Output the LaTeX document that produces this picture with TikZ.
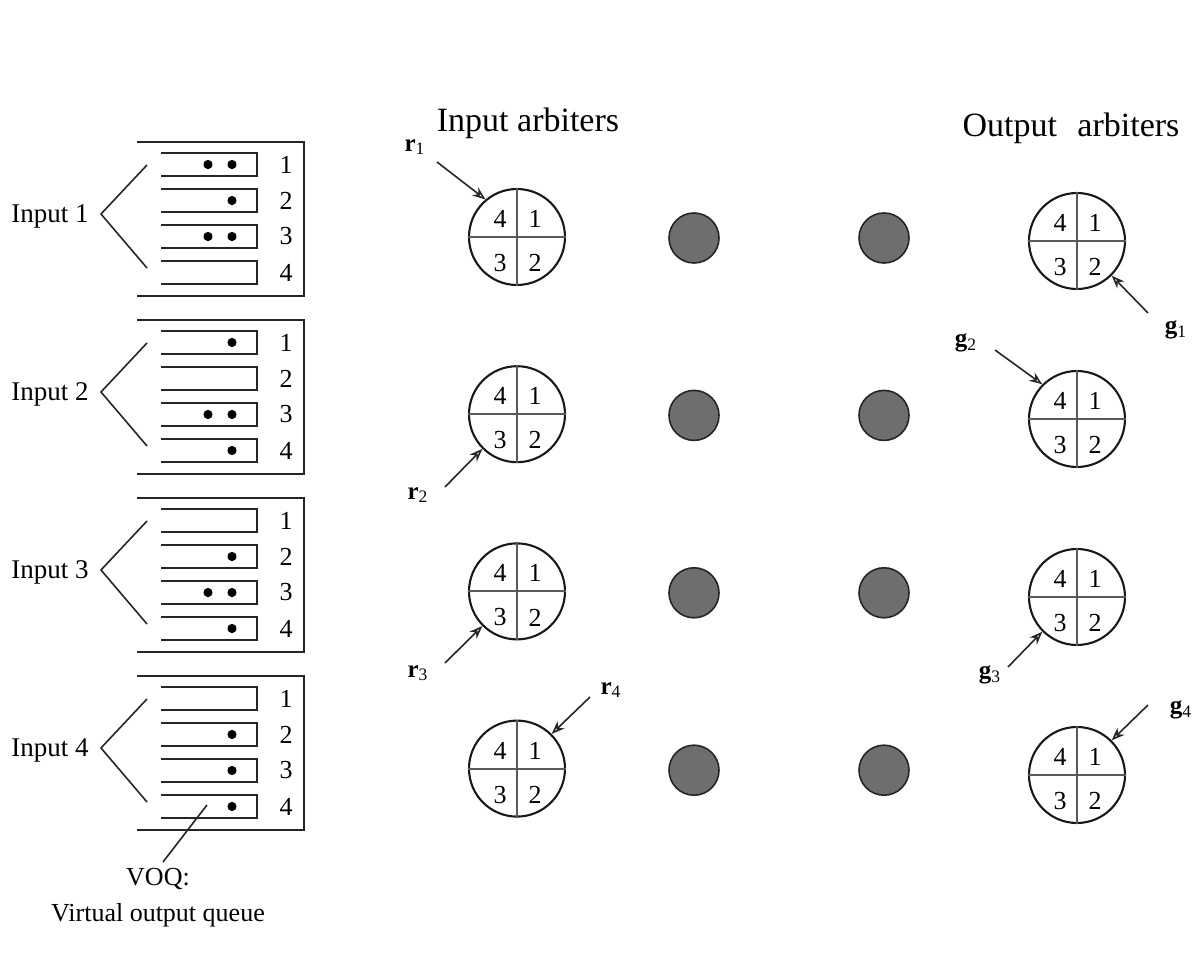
\documentclass[tikz,border=0pt]{standalone}
\usepackage{fontspec}
\setmainfont{Liberation Serif}
\usetikzlibrary{arrows.meta}
\begin{document}
\begin{tikzpicture}[x=0.5pt,y=-0.5pt,
  qline/.style={line width=1.05pt, draw=black!85},
  arb/.style={circle, draw=black!90, line width=1.05pt, minimum size=48pt, inner sep=0pt},
  crossline/.style={line width=1pt, draw=black!65},
  digit/.style={font=\fontsize{13}{15}\selectfont, inner sep=0pt},
  qnum/.style={font=\fontsize{13}{15}\selectfont, inner sep=0pt},
  swnode/.style={circle, draw=black!85, line width=0.8pt, fill=black!57, minimum size=25pt, inner sep=0pt},
  pkt/.style={circle, fill=black, minimum size=4.6pt, inner sep=0pt},
  arr/.style={line width=0.8pt, draw=black!85, -{Stealth[open,length=6.5pt,width=5pt]}},
  siglbl/.style={font=\fontsize{12.5}{14}\selectfont\bfseries, inner sep=0pt},
  inlabel/.style={font=\fontsize{13.5}{16}\selectfont, inner sep=0pt},
  titlefont/.style={font=\fontsize{17}{20}\selectfont, inner sep=0pt},
  voqfont/.style={font=\fontsize{13}{15}\selectfont, inner sep=0pt},
]
\useasboundingbox[fill=white] (0,0) rectangle (1196,957);

% ---------- input VOQ blocks ----------
\foreach \k/\lab in {0/1,1/2,2/3,3/4}{
  \pgfmathsetmacro{\b}{153+178*\k}
  \draw[qline] (137,\b-11) -- (304,\b-11) -- (304,\b+143) -- (137,\b+143);
  \foreach \j in {0,1,2,3}{
    \draw[qline] (161,\b+36*\j) -- (257,\b+36*\j) -- (257,\b+36*\j+23) -- (161,\b+36*\j+23);
    \pgfmathtruncatemacro{\jj}{\j+1}
    \node[qnum] (n\k\j) at (286,\b+36*\j+11.5) {\jj};
  }
  \node[inlabel, anchor=east] (in\k) at (89,\b+63) {Input \lab};
  \coordinate (v\k) at (101,\b+61);
  \coordinate (ft\k) at (147,\b+12);
  \coordinate (fb\k) at (147,\b+115);
  \draw[qline, line width=0.8pt] (ft\k) -- (v\k) -- (fb\k);
}

% packets (dots)
\def\dotA{208}
\def\dotB{232}
% block 1
\node[pkt] (p1a) at (\dotA,164.5) {};
\node[pkt] (p1b) at (\dotB,164.5) {};
\node[pkt] (p1c) at (\dotB,200.5) {};
\node[pkt] (p1d) at (\dotA,236.5) {};
\node[pkt] (p1e) at (\dotB,236.5) {};
% block 2
\node[pkt] (p2a) at (\dotB,342.5) {};
\node[pkt] (p2b) at (\dotA,414.5) {};
\node[pkt] (p2c) at (\dotB,414.5) {};
\node[pkt] (p2d) at (\dotB,450.5) {};
% block 3
\node[pkt] (p3a) at (\dotB,556.5) {};
\node[pkt] (p3b) at (\dotA,592.5) {};
\node[pkt] (p3c) at (\dotB,592.5) {};
\node[pkt] (p3d) at (\dotB,628.5) {};
% block 4
\node[pkt] (p4a) at (\dotB,734.5) {};
\node[pkt] (p4b) at (\dotB,770.5) {};
\node[pkt] (p4c) at (\dotB,806.5) {};

% VOQ label
\coordinate (voqpt) at (207,805);
\node[voqfont] (voq) at (158,879) {VOQ:};
\node[voqfont] (voqtxt) at (158,915) {Virtual output queue};
\draw[qline, line width=0.8pt] (voqpt) -- (163,862);

% ---------- titles ----------
\node[titlefont] (tin) at (528,123) {Input arbiters};
\node[titlefont] (tout) at (1071,128) {Output\hspace{0.6em}arbiters};

% ---------- arbiters and switches ----------
\foreach \k in {0,1,2,3}{
  \pgfmathsetmacro{\yi}{237+177.2*\k}
  \pgfmathsetmacro{\yo}{241+178*\k}
  \pgfmathsetmacro{\ys}{238+177.4*\k}
  \node[arb] (ia\k) at (517,\yi) {};
  \node[arb] (oa\k) at (1077,\yo) {};
  \node[swnode] (sa\k) at (694,\ys) {};
  \node[swnode] (sb\k) at (884,\ys) {};
  \foreach \a in {ia,oa}{
    \draw[crossline] (\a\k.north) -- (\a\k.south);
    \draw[crossline] (\a\k.west) -- (\a\k.east);
  }
  \node[digit] (ia\k d4) at (517-17,\yi-18) {4};
  \node[digit] (ia\k d1) at (517+18,\yi-18) {1};
  \node[digit] (ia\k d3) at (517-17,\yi+26) {3};
  \node[digit] (ia\k d2) at (517+18,\yi+26) {2};
  \node[digit] (oa\k d4) at (1077-17,\yo-18) {4};
  \node[digit] (oa\k d1) at (1077+18,\yo-18) {1};
  \node[digit] (oa\k d3) at (1077-17,\yo+26) {3};
  \node[digit] (oa\k d2) at (1077+18,\yo+26) {2};
}

% ---------- request / grant arrows ----------
\node[siglbl] (r1) at (415,147) {r\textsubscript{\mdseries 1}};
\node[siglbl] (r2) at (418,495) {r\textsubscript{\mdseries 2}};
\node[siglbl] (r3) at (418,673) {r\textsubscript{\mdseries 3}};
\node[siglbl] (r4) at (611,690) {r\textsubscript{\mdseries 4}};
\node[siglbl] (g1) at (1176,330) {g\textsubscript{\mdseries 1}};
\node[siglbl] (g2) at (966,343) {g\textsubscript{\mdseries 2}};
\node[siglbl] (g3) at (990,675) {g\textsubscript{\mdseries 3}};
\node[siglbl] (g4) at (1181,710) {g\textsubscript{\mdseries 4}};

\coordinate (r1s) at (437,162);
\coordinate (r2s) at (445,487);
\coordinate (r3s) at (445,663);
\coordinate (r4s) at (590,697);
\coordinate (g1s) at (1148,313);
\coordinate (g2s) at (995,350);
\coordinate (g3s) at (1008,667);
\coordinate (g4s) at (1148,705);

\draw[arr] (r1s) -- (ia0.130);
\draw[arr] (r2s) -- (ia1.225);
\draw[arr] (r3s) -- (ia2.225);
\draw[arr] (r4s) -- (ia3.45);
\draw[arr] (g1s) -- (oa0.-45);
\draw[arr] (g2s) -- (oa1.135);
\draw[arr] (g3s) -- (oa2.225);
\draw[arr] (g4s) -- (oa3.45);
\end{tikzpicture}
\end{document}
